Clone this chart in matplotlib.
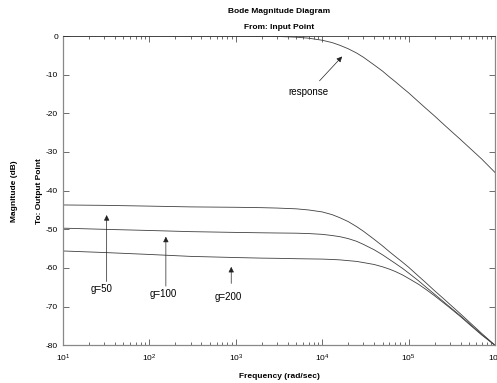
import numpy as np
import matplotlib
matplotlib.use('Agg')
import matplotlib.pyplot as plt
from matplotlib.ticker import LogLocator, NullFormatter, MultipleLocator

plt.rcParams['font.family'] = ['Liberation Sans', 'DejaVu Sans']
plt.rcParams['mathtext.default'] = 'regular'
plt.rcParams['axes.unicode_minus'] = False

# Frequenzpunkte (rad/sec)
freq = [10, 30, 100, 300, 1e3, 2e3, 3e3, 5e3, 7e3, 1e4, 1.3e4, 1.6e4, 2e4, 2.5e4, 3e4,
        4e4, 5e4, 6e4, 7e4, 8.5e4, 1e5, 1.3e5, 1.6e5, 2e5, 2.5e5, 3e5, 4e5, 5e5, 7e5, 1e6]

# Betrag in dB
response_db = [0.0, 0.0, 0.0, 0.0, -0.01, -0.05, -0.11, -0.3, -0.57, -1.1, -1.7, -2.4, -3.3, -4.4, -5.5,
               -7.5, -9.1, -10.6, -11.8, -13.4, -14.7, -17.0, -18.8, -20.7, -22.7, -24.3, -26.8, -28.8,
               -31.8, -35.3]
g50_db = [-43.7, -43.8, -44.0, -44.2, -44.3, -44.4, -44.5, -44.7, -45.0, -45.5, -46.2, -47.0, -48.0, -49.3,
          -50.5, -52.6, -54.3, -55.8, -57.0, -58.5, -59.8, -62.1, -63.9, -65.9, -67.8, -69.4, -71.9,
          -73.9, -76.9, -80.0]
g100_db = [-49.7, -50.0, -50.3, -50.6, -50.8, -50.9, -50.95, -51.0, -51.1, -51.3, -51.6, -51.9, -52.4,
           -53.1, -53.9, -55.3, -56.6, -57.8, -58.8, -60.1, -61.3, -63.3, -65.0, -66.8, -68.6, -70.1,
           -72.4, -74.3, -77.2, -80.0]
g200_db = [-55.6, -56.0, -56.5, -57.0, -57.3, -57.45, -57.5, -57.6, -57.65, -57.7, -57.8, -57.9, -58.1,
           -58.3, -58.6, -59.1, -59.7, -60.3, -60.9, -61.8, -62.7, -64.2, -65.6, -67.2, -68.9, -70.3,
           -72.6, -74.5, -77.3, -80.0]

# Beschriftungen: (Text, Textposition, Pfeilende, Pfeilspitze)
annotations = [
    ('response', (6.9e3, -14.5), (9.3e3, -11.6), (1.7e4, -5.3)),
    ('g=50', (28, -65.5), (32, -63.5), (32, -46.3)),
    ('g=100', (145, -66.8), (155, -64.7), (155, -51.9)),
    ('g=200', (825, -67.6), (885, -64.0), (885, -59.7)),
]

fig = plt.figure(figsize=(4.97, 3.83), dpi=100)
ax = fig.add_axes([0.1268, 0.0984, 0.8692, 0.8076])

for vals in [response_db, g50_db, g100_db, g200_db]:
    ax.semilogx(freq, vals, color='#404040', linewidth=0.6)

for label, txt, tail, tip in annotations:
    ax.annotate('', xy=tip, xytext=tail,
                arrowprops=dict(arrowstyle='-|>', color='#222222', lw=0.5,
                                mutation_scale=8, shrinkA=0, shrinkB=0))
    ax.text(txt[0], txt[1], label, fontsize=7, ha='center', va='center', color='black')

ax.set_xlim(10, 1e6)
ax.set_ylim(-80, 0)
ax.yaxis.set_major_locator(MultipleLocator(10))
ax.xaxis.set_major_locator(LogLocator(base=10, numticks=10))
ax.xaxis.set_minor_locator(LogLocator(base=10, subs=np.arange(2, 10), numticks=10))
ax.xaxis.set_minor_formatter(NullFormatter())
ax.tick_params(which='both', direction='in', top=True, right=True, labelsize=6,
               color='#333333', width=0.5)
ax.tick_params(which='major', length=4)
ax.tick_params(which='minor', length=2)
ax.tick_params(axis='x', pad=5)
for side, sp in ax.spines.items():
    sp.set_color('#888888')
    sp.set_linewidth(0.9)
ax.spines['top'].set_color('#333333')
ax.spines['top'].set_linewidth(0.6)

fig.text(0.5625, 0.971, 'Bode Magnitude Diagram', fontsize=6, ha='center', va='center',
         fontweight='bold')
fig.text(0.5625, 0.929, 'From: Input Point', fontsize=6, ha='center', va='center',
         fontweight='bold')
fig.text(0.5625, 0.018, 'Frequency (rad/sec)', fontsize=6, ha='center', va='center',
         fontweight='bold')
fig.text(0.030, 0.5, 'Magnitude (dB)', fontsize=6, ha='center', va='center',
         rotation=90, fontweight='bold')
fig.text(0.080, 0.5, 'To: Output Point', fontsize=6, ha='center', va='center',
         rotation=90, fontweight='bold')

fig.savefig('out.png', dpi=100)
